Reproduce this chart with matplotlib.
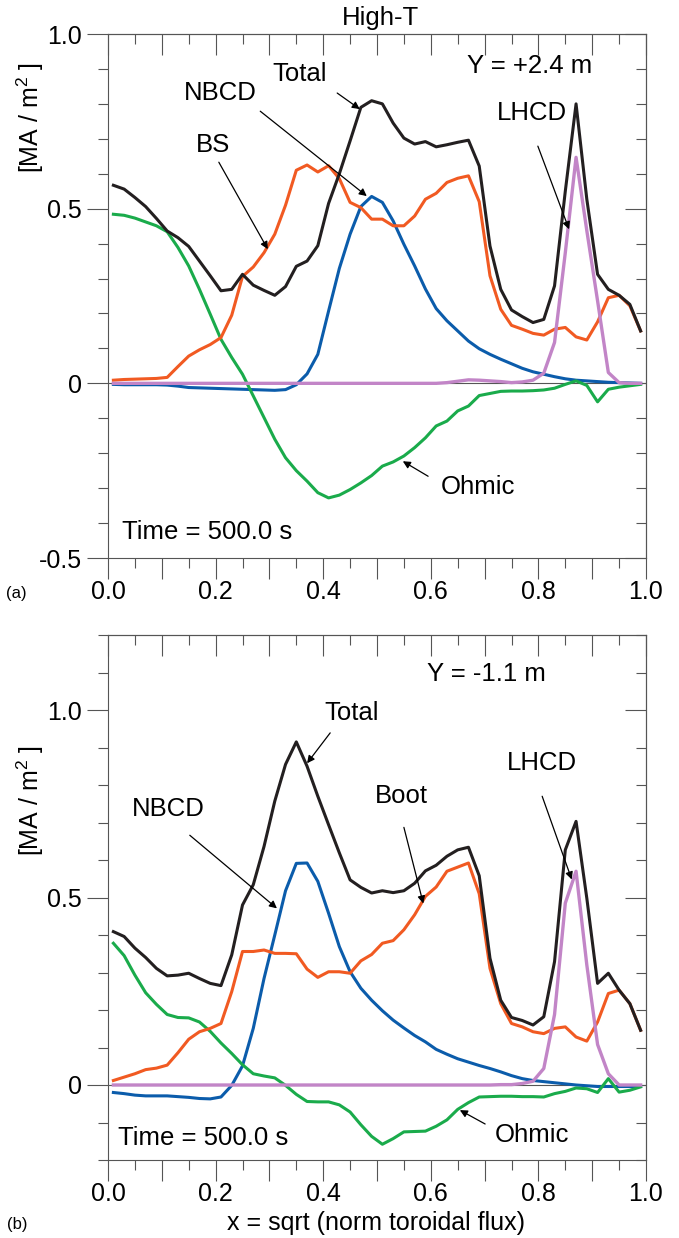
import matplotlib
matplotlib.use("Agg")
import matplotlib.pyplot as plt

plt.rcParams["font.family"] = ["Liberation Sans", "DejaVu Sans"]
plt.rcParams["mathtext.default"] = "regular"

#%% data (x = sqrt of normalised toroidal flux)
x = [0.01, 0.03, 0.05, 0.07, 0.09, 0.11, 0.13, 0.15, 0.17, 0.19,
     0.21, 0.23, 0.25, 0.27, 0.29, 0.31, 0.33, 0.35, 0.37, 0.39,
     0.41, 0.43, 0.45, 0.47, 0.49, 0.51, 0.53, 0.55, 0.57, 0.59,
     0.61, 0.63, 0.65, 0.67, 0.69, 0.71, 0.73, 0.75, 0.77, 0.79,
     0.81, 0.83, 0.85, 0.87, 0.89, 0.91, 0.93, 0.95, 0.97, 0.99]

# panel (a): High-T, Y = +2.4 m
total_a = [0.567, 0.556, 0.532, 0.506, 0.472, 0.436, 0.417, 0.392, 0.350, 0.308,
           0.265, 0.269, 0.312, 0.281, 0.266, 0.252, 0.277, 0.335, 0.350, 0.394,
           0.515, 0.600, 0.694, 0.790, 0.809, 0.800, 0.745, 0.702, 0.685, 0.692,
           0.677, 0.683, 0.690, 0.696, 0.622, 0.393, 0.269, 0.210, 0.191, 0.174,
           0.183, 0.279, 0.550, 0.800, 0.527, 0.312, 0.269, 0.252, 0.226, 0.150]
bs_a = [0.009, 0.011, 0.012, 0.013, 0.014, 0.017, 0.048, 0.078, 0.096, 0.111,
        0.131, 0.195, 0.306, 0.333, 0.374, 0.427, 0.510, 0.610, 0.625, 0.605,
        0.623, 0.586, 0.518, 0.503, 0.470, 0.470, 0.451, 0.451, 0.479, 0.527,
        0.544, 0.575, 0.587, 0.594, 0.520, 0.308, 0.212, 0.166, 0.155, 0.143,
        0.138, 0.155, 0.160, 0.133, 0.124, 0.176, 0.245, 0.252, 0.222, 0.150]
nbcd_a = [-0.003, -0.004, -0.004, -0.004, -0.004, -0.005, -0.008, -0.012, -0.013, -0.014,
          -0.015, -0.016, -0.017, -0.018, -0.019, -0.020, -0.018, -0.004, 0.027, 0.083,
          0.207, 0.329, 0.427, 0.506, 0.535, 0.518, 0.465, 0.398, 0.336, 0.270,
          0.214, 0.179, 0.150, 0.121, 0.099, 0.083, 0.069, 0.056, 0.043, 0.033,
          0.026, 0.019, 0.013, 0.009, 0.007, 0.005, 0.003, 0.002, 0.001, 0.000]
ohmic_a = [0.484, 0.481, 0.473, 0.462, 0.451, 0.434, 0.389, 0.336, 0.269, 0.198,
           0.126, 0.074, 0.026, -0.036, -0.098, -0.160, -0.213, -0.250, -0.280, -0.313,
           -0.328, -0.320, -0.304, -0.285, -0.264, -0.237, -0.225, -0.208, -0.184, -0.156,
           -0.122, -0.108, -0.079, -0.065, -0.035, -0.029, -0.023, -0.022, -0.022, -0.021,
           -0.019, -0.014, -0.003, 0.007, -0.006, -0.053, -0.017, -0.011, -0.007, -0.003]
lhcd_a = [0.0, 0.0, 0.0, 0.0, 0.0, 0.0, 0.0, 0.0, 0.0, 0.0,
          0.0, 0.0, 0.0, 0.0, 0.0, 0.0, 0.0, 0.0, 0.0, 0.0,
          0.0, 0.0, 0.0, 0.0, 0.0, 0.0, 0.0, 0.0, 0.0, 0.0,
          0.0, 0.002, 0.006, 0.010, 0.009, 0.007, 0.005, 0.002, 0.004, 0.009,
          0.029, 0.117, 0.374, 0.647, 0.437, 0.236, 0.031, 0.002, 0.0, 0.0]

# panel (b): Y = -1.1 m
total_b = [0.409, 0.396, 0.365, 0.340, 0.311, 0.291, 0.293, 0.298, 0.284, 0.271,
           0.265, 0.347, 0.480, 0.534, 0.636, 0.757, 0.855, 0.915, 0.850, 0.770,
           0.694, 0.619, 0.547, 0.527, 0.512, 0.518, 0.513, 0.518, 0.538, 0.571,
           0.586, 0.610, 0.627, 0.634, 0.558, 0.338, 0.226, 0.180, 0.172, 0.160,
           0.182, 0.329, 0.627, 0.703, 0.498, 0.271, 0.298, 0.253, 0.217, 0.146]
boot_b = [0.012, 0.021, 0.030, 0.041, 0.045, 0.053, 0.086, 0.122, 0.142, 0.151,
          0.164, 0.249, 0.356, 0.356, 0.360, 0.351, 0.351, 0.350, 0.309, 0.287,
          0.302, 0.302, 0.298, 0.331, 0.348, 0.378, 0.385, 0.414, 0.454, 0.503,
          0.528, 0.570, 0.581, 0.592, 0.510, 0.311, 0.217, 0.164, 0.155, 0.142,
          0.137, 0.151, 0.155, 0.128, 0.117, 0.168, 0.244, 0.253, 0.217, 0.146]
nbcd_b = [-0.020, -0.023, -0.027, -0.029, -0.029, -0.029, -0.031, -0.033, -0.036, -0.037,
          -0.032, -0.001, 0.051, 0.151, 0.284, 0.400, 0.518, 0.591, 0.592, 0.543,
          0.458, 0.369, 0.302, 0.258, 0.226, 0.198, 0.173, 0.152, 0.132, 0.115,
          0.095, 0.082, 0.070, 0.061, 0.052, 0.044, 0.035, 0.025, 0.017, 0.012,
          0.009, 0.006, 0.003, 0.000, -0.002, -0.004, -0.004, -0.004, -0.004, -0.004]
ohmic_b = [0.378, 0.345, 0.293, 0.246, 0.215, 0.188, 0.180, 0.179, 0.168, 0.143,
           0.112, 0.084, 0.054, 0.030, 0.024, 0.019, -0.001, -0.025, -0.044, -0.045,
           -0.045, -0.053, -0.072, -0.106, -0.137, -0.158, -0.143, -0.125, -0.124, -0.123,
           -0.110, -0.093, -0.065, -0.047, -0.032, -0.031, -0.030, -0.030, -0.031, -0.031,
           -0.032, -0.023, -0.017, -0.008, -0.010, -0.020, 0.017, -0.019, -0.014, -0.005]
lhcd_b = [0.0, 0.0, 0.0, 0.0, 0.0, 0.0, 0.0, 0.0, 0.0, 0.0,
          0.0, 0.0, 0.0, 0.0, 0.0, 0.0, 0.0, 0.0, 0.0, 0.0,
          0.0, 0.0, 0.0, 0.0, 0.0, 0.0, 0.0, 0.0, 0.0, 0.0,
          0.0, 0.0, 0.0, 0.0, 0.0, 0.0, 0.001, 0.001, 0.004, 0.010,
          0.044, 0.188, 0.485, 0.570, 0.320, 0.108, 0.030, 0.0, 0.0, 0.0]

x_major = [0.0, 0.1, 0.2, 0.3, 0.4, 0.5, 0.6, 0.7, 0.8, 0.9, 1.0]
x_labels = ["0.0", "", "0.2", "", "0.4", "", "0.6", "", "0.8", "", "1.0"]
x_minor = [0.05, 0.15, 0.25, 0.35, 0.45, 0.55, 0.65, 0.75, 0.85, 0.95]

ya_major = [-0.5, 0.0, 0.5, 1.0]
ya_labels = ["-0.5", "0", "0.5", "1.0"]
ya_minor = [-0.4, -0.3, -0.2, -0.1, 0.1, 0.2, 0.3, 0.4, 0.6, 0.7, 0.8, 0.9]
yb_major = [0.0, 0.5, 1.0]
yb_labels = ["0", "0.5", "1.0"]
yb_minor = [-0.2, -0.1, 0.1, 0.2, 0.3, 0.4, 0.6, 0.7, 0.8, 0.9, 1.1, 1.2]

#%% colours
c_total = "#231f20"
c_bs = "#f15a22"
c_nbcd = "#0b5cab"
c_ohm = "#1aab4b"
c_lh = "#c285c7"
gray = "#555555"


def style_axes(ax, ylim, ymaj, ylab, ymin):
    ax.set_xlim(0, 1)
    ax.set_ylim(*ylim)
    ax.set_xticks(x_major, x_labels)
    ax.set_xticks(x_minor, minor=True)
    ax.set_yticks(ymaj, ylab)
    ax.set_yticks(ymin, minor=True)
    ax.tick_params(which="both", direction="out", color=gray, width=0.8, labelsize=18)
    ax.tick_params(which="major", length=15)
    ax.tick_params(which="minor", length=7.5)
    ax.tick_params(axis="x", pad=1)
    ax.tick_params(axis="y", pad=4)
    for s in ax.spines.values():
        s.set_color(gray)
        s.set_linewidth(0.8)
    # inward ticks on the top and right sides
    top = ax.secondary_xaxis("top")
    top.set_xticks(x_major, [""] * len(x_major))
    top.set_xticks(x_minor, minor=True)
    top.tick_params(which="both", direction="in", color=gray, width=0.8)
    top.tick_params(which="major", length=15)
    top.tick_params(which="minor", length=7.5)
    top.spines["top"].set_color(gray)
    right = ax.secondary_yaxis("right")
    right.set_yticks(ymaj, [""] * len(ymaj))
    right.set_yticks(ymin, minor=True)
    right.tick_params(which="both", direction="in", color=gray, width=0.8)
    right.tick_params(which="major", length=15)
    right.tick_params(which="minor", length=7.5)
    right.spines["right"].set_color(gray)
    ax.axhline(0, color=gray, lw=0.8, zorder=1)


def plot_curves(ax, total, bs, nbcd, ohm, lh):
    lw = 2.2
    ax.plot(x, nbcd, color=c_nbcd, lw=lw, zorder=3)
    ax.plot(x, ohm, color=c_ohm, lw=lw, zorder=3)
    ax.plot(x, bs, color=c_bs, lw=lw, zorder=4)
    ax.plot(x, total, color=c_total, lw=lw, zorder=5)
    ax.plot(x, lh, color=c_lh, lw=2.4, zorder=6)


def label(ax, text, xy, tail=None, head=None):
    ax.text(xy[0], xy[1], text, fontsize=18.5, ha="center", va="center", zorder=8)
    if tail is not None:
        ax.annotate("", xy=head, xytext=tail,
                    arrowprops=dict(arrowstyle="-|>", color="k", lw=0.9,
                                    mutation_scale=11, shrinkA=0, shrinkB=0),
                    zorder=8)


fig = plt.figure(figsize=(6.79, 12.38), dpi=100)
ax1 = fig.add_axes([108 / 679, 1 - 558 / 1238, 538 / 679, 524 / 1238])
ax2 = fig.add_axes([108 / 679, 1 - 1160 / 1238, 538 / 679, 525 / 1238])

#%% panel (a)
plot_curves(ax1, total_a, bs_a, nbcd_a, ohmic_a, lhcd_a)
style_axes(ax1, (-0.5, 1.0), ya_major, ya_labels, ya_minor)
label(ax1, "Total", (0.357, 0.885), (0.426, 0.831), (0.468, 0.785))
label(ax1, "NBCD", (0.208, 0.831), (0.283, 0.779), (0.481, 0.536))
label(ax1, "BS", (0.195, 0.682), (0.206, 0.633), (0.297, 0.384))
label(ax1, "Y = +2.4 m", (0.783, 0.908))
label(ax1, "LHCD", (0.788, 0.774), (0.799, 0.679), (0.857, 0.441))
label(ax1, "Ohmic", (0.688, -0.298), (0.595, -0.266), (0.548, -0.223))
ax1.text(0.026, -0.427, "Time = 500.0 s", fontsize=18.5, ha="left", va="center")

#%% panel (b)
plot_curves(ax2, total_b, boot_b, nbcd_b, ohmic_b, lhcd_b)
style_axes(ax2, (-0.2, 1.2), yb_major, yb_labels, yb_minor)
label(ax2, "Y = -1.1 m", (0.703, 1.096))
label(ax2, "Total", (0.452, 0.992), (0.413, 0.939), (0.370, 0.858))
label(ax2, "NBCD", (0.112, 0.735), (0.152, 0.666), (0.314, 0.471))
label(ax2, "Boot", (0.545, 0.770), (0.550, 0.687), (0.586, 0.484))
label(ax2, "LHCD", (0.807, 0.858), (0.807, 0.770), (0.862, 0.548))
label(ax2, "Ohmic", (0.788, -0.134), (0.701, -0.104), (0.654, -0.067))
ax2.text(0.019, -0.142, "Time = 500.0 s", fontsize=18.5, ha="left", va="center")

#%% figure level text
fig.text(380 / 679, 1 - 18 / 1238, "High-T", fontsize=18.5, ha="center", va="center")
fig.text(30 / 679, 1 - 118 / 1238, "[MA / m$^2$ ]", fontsize=18, rotation=90,
         ha="center", va="center")
fig.text(30 / 679, 1 - 801 / 1238, "[MA / m$^2$ ]", fontsize=18, rotation=90,
         ha="center", va="center")
fig.text(16 / 679, 1 - 593 / 1238, "(a)", fontsize=12, ha="center", va="center")
fig.text(17 / 679, 1 - 1224 / 1238, "(b)", fontsize=12, ha="center", va="center")
fig.text(376 / 679, 1 - 1223 / 1238, "x = sqrt (norm toroidal flux)", fontsize=18,
         ha="center", va="center")

fig.savefig("out.png", dpi=100)
